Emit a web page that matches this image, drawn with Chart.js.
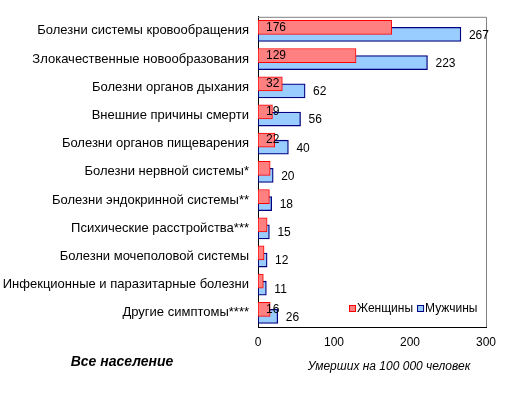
<!DOCTYPE html>
<html>
<head>
<meta charset="utf-8">
<script src="https://cdn.jsdelivr.net/npm/chart.js@4/dist/chart.umd.min.js"></script>
<style>
html,body{margin:0;padding:0;background:#fff;}
#wrap{width:517px;height:396px;position:relative;}
</style>
</head>
<body>
<div id="wrap"><canvas id="c" width="517" height="396"></canvas></div>
<script>
const categories = [
  "Болезни системы кровообращения",
  "Злокачественные новообразования",
  "Болезни органов дыхания",
  "Внешние причины смерти",
  "Болезни органов пищеварения",
  "Болезни нервной системы*",
  "Болезни эндокринной системы**",
  "Психические расстройства***",
  "Болезни мочеполовой системы",
  "Инфекционные и паразитарные болезни",
  "Другие симптомы****"
];
const women = [176, 129, 32, 19, 22, 16, 15, 12, 8, 7, 16];
const men = [267, 223, 62, 56, 40, 20, 18, 15, 12, 11, 26];
const womenLabels = [176, 129, 32, 19, 22, null, null, null, null, null, 16];
const menLabels = [267, 223, 62, 56, 40, 20, 18, 15, 12, 11, 26];
const xTicks = [0, 100, 200, 300];
const seriesNames = ["Женщины", "Мужчины"];
const xTitle = "Умерших на 100 000 человек";
const chartTitle = "Все население";

const FONT = "'Liberation Sans', Arial, sans-serif";

const extras = {
  id: 'extras',
  beforeDatasetsDraw(chart) {
    const {ctx, chartArea: a} = chart;
    ctx.save();
    ctx.strokeStyle = '#808080';
    ctx.lineWidth = 1;
    ctx.beginPath();
    ctx.moveTo(a.left, a.top + 0.5);
    ctx.lineTo(a.right + 0.5, a.top + 0.5);
    ctx.lineTo(a.right + 0.5, a.bottom);
    ctx.stroke();
    ctx.restore();
  },
  afterDatasetsDraw(chart) {
    const {ctx, chartArea: a} = chart;
    ctx.save();
    ctx.font = '12px ' + FONT;
    ctx.fillStyle = '#000';
    ctx.textBaseline = 'middle';
    ctx.textAlign = 'left';
    const mW = chart.getDatasetMeta(0);
    const mM = chart.getDatasetMeta(1);
    mM.data.forEach((el, i) => {
      if (menLabels[i] == null) return;
      const p = el.getProps(['x', 'y'], true);
      ctx.fillText(String(menLabels[i]), p.x + 8, p.y + 1);
    });
    mW.data.forEach((el, i) => {
      if (womenLabels[i] == null) return;
      const p = el.getProps(['y', 'base'], true);
      ctx.fillText(String(womenLabels[i]), p.base + 8, p.y);
    });
    // legend
    ctx.font = '12px ' + FONT;
    const ly = 309;
    let lx = 349;
    const styles = [['#FF8080', '#FF0000'], ['#99CCFF', '#000080']];
    seriesNames.forEach((n, k) => {
      ctx.fillStyle = styles[k][0];
      ctx.fillRect(lx, ly - 3, 6, 6);
      ctx.strokeStyle = styles[k][1];
      ctx.lineWidth = 1;
      ctx.strokeRect(lx + 0.5, ly - 3.5, 6, 6);
      ctx.fillStyle = '#000';
      ctx.fillText(n, lx + 8, ly);
      lx += 8 + ctx.measureText(n).width + 4;
    });
    // x axis title
    ctx.font = 'italic 12px ' + FONT;
    ctx.textAlign = 'center';
    ctx.fillText(xTitle, 389, 367);
    // bottom-left title
    ctx.font = 'italic bold 14px ' + FONT;
    ctx.fillText(chartTitle, 122, 362);
    ctx.restore();
  }
};

new Chart(document.getElementById('c'), {
  type: 'bar',
  data: {
    labels: categories,
    datasets: [
      {label: seriesNames[0], data: women, backgroundColor: '#FF8080', borderColor: '#FF0000', borderWidth: 1, borderSkipped: false},
      {label: seriesNames[1], data: men, backgroundColor: '#99CCFF', borderColor: '#000080', borderWidth: 1.3, borderSkipped: false}
    ]
  },
  options: {
    indexAxis: 'y',
    responsive: false,
    animation: false,
    devicePixelRatio: 1,
    categoryPercentage: 0.5,
    barPercentage: 2,
    layout: {padding: {top: 15, right: 31, bottom: 0, left: 0}},
    plugins: {legend: {display: false}, tooltip: {enabled: false}, title: {display: false}},
    scales: {
      x: {
        min: 0, max: 300,
        afterBuildTicks(s) { s.ticks = xTicks.map(v => ({value: v})); },
        afterFit(s) { s.height = 69; },
        grid: {display: false, drawTicks: false},
        border: {display: true, color: '#000', width: 1},
        ticks: {color: '#000', padding: 8, font: {family: FONT, size: 12}, maxRotation: 0},
        title: {display: false}
      },
      y: {
        afterFit(s) { s.width = 258; },
        grid: {display: false, drawTicks: false},
        border: {display: true, color: '#000', width: 1},
        ticks: {color: '#000', padding: 9, font: {family: FONT, size: 13}, autoSkip: false}
      }
    }
  },
  plugins: [extras]
});
</script>
</body>
</html>
